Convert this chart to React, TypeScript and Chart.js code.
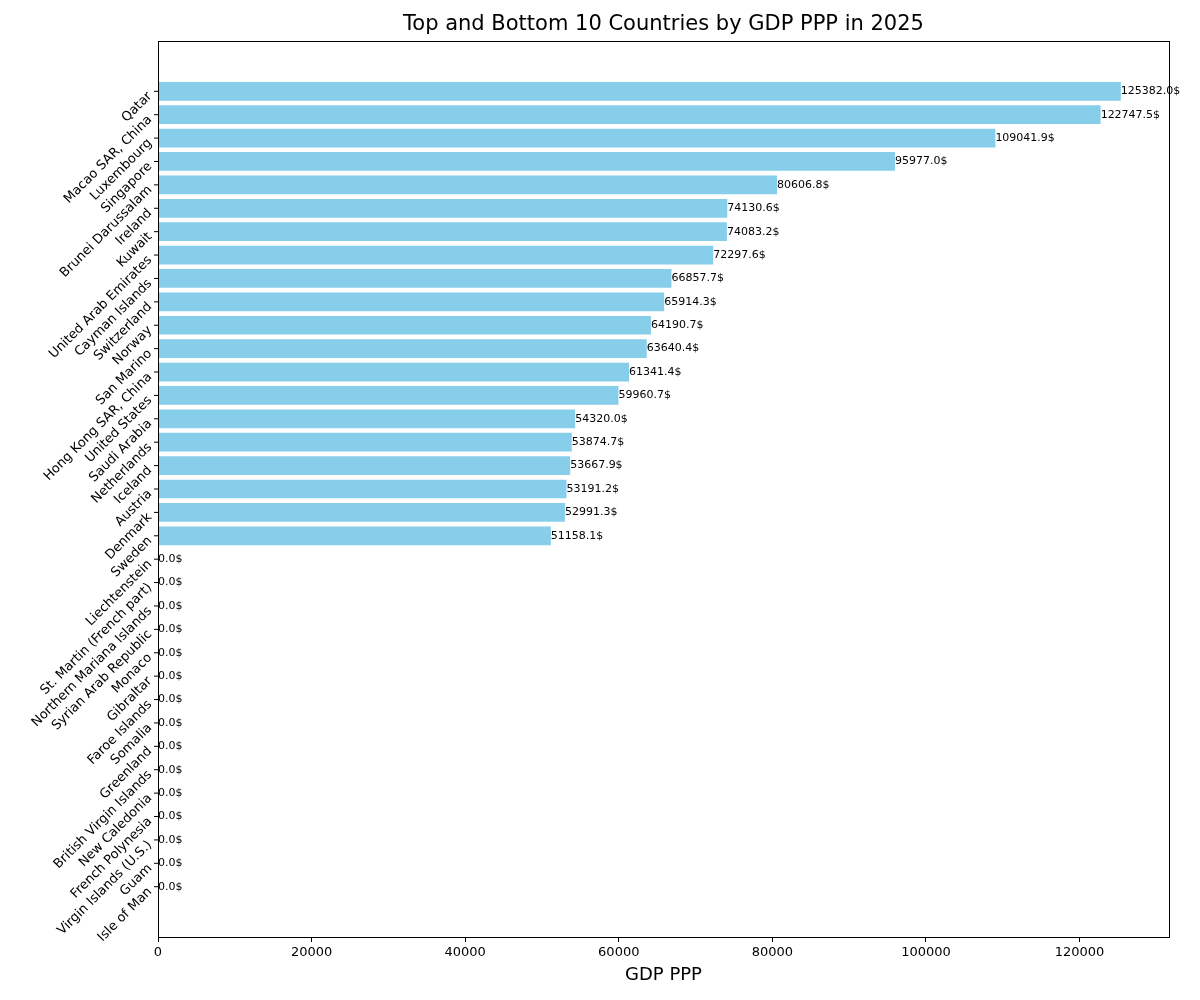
import React, { useEffect, useRef } from "react";
import { Chart, registerables } from "chart.js";
Chart.register(...registerables);

const countries = ["Qatar","Macao SAR, China","Luxembourg","Singapore","Brunei Darussalam","Ireland","Kuwait","United Arab Emirates","Cayman Islands","Switzerland","Norway","San Marino","Hong Kong SAR, China","United States","Saudi Arabia","Netherlands","Iceland","Austria","Denmark","Sweden","Liechtenstein","St. Martin (French part)","Northern Mariana Islands","Syrian Arab Republic","Monaco","Gibraltar","Faroe Islands","Somalia","Greenland","British Virgin Islands","New Caledonia","French Polynesia","Virgin Islands (U.S.)","Guam","Isle of Man"];
const gdpValues = [125382.0,122747.5,109041.9,95977.0,80606.8,74130.6,74083.2,72297.6,66857.7,65914.3,64190.7,63640.4,61341.4,59960.7,54320.0,53874.7,53667.9,53191.2,52991.3,51158.1,0,0,0,0,0,0,0,0,0,0,0,0,0,0,0];
const xTicks = [0,20000,40000,60000,80000,100000,120000];

const FONT = "'DejaVu Sans', sans-serif";

export default function App() {
  const ref = useRef<HTMLCanvasElement>(null);
  useEffect(() => {
    document.body.style.margin = "0";
    const overlay = {
      id: "overlay",
      afterDraw(chart: any) {
        const ctx = chart.ctx;
        const ys = chart.scales.y, xs = chart.scales.x, a = chart.chartArea;
        ctx.save();
        ctx.fillStyle = "#000";
        ctx.font = `21px ${FONT}`;
        ctx.textAlign = "center"; ctx.textBaseline = "middle";
        ctx.fillText("Top and Bottom 10 Countries by GDP PPP in 2025", (a.left + a.right) / 2, 25);
        ctx.strokeStyle = "#000"; ctx.lineWidth = 1;
        ctx.strokeRect(a.left + 0.5, a.top + 0.5, a.right - a.left, a.bottom - a.top);
        countries.forEach((c, i) => {
          const y = ys.getPixelForValue(i);
          ctx.beginPath(); ctx.moveTo(a.left - 4, y); ctx.lineTo(a.left, y); ctx.stroke();
          ctx.save();
          ctx.translate(a.left - 8, y + 3);
          ctx.rotate(-Math.PI / 4);
          ctx.font = `13px ${FONT}`;
          ctx.textAlign = "right"; ctx.textBaseline = "middle";
          ctx.fillText(c, 0, 0);
          ctx.restore();
          ctx.font = `11px ${FONT}`;
          ctx.textAlign = "left"; ctx.textBaseline = "middle";
          ctx.fillText(gdpValues[i].toFixed(1) + "$", xs.getPixelForValue(gdpValues[i]), y);
        });
        ctx.restore();
      },
    };
    const chart = new Chart(ref.current!, {
      type: "bar",
      data: {
        datasets: [{
          data: gdpValues.map((v, i) => ({ x: v, y: i })),
          backgroundColor: "#87CEEB",
          barPercentage: 0.8,
          categoryPercentage: 1,
        }],
      },
      options: {
        indexAxis: "y",
        animation: false,
        responsive: false,
        layout: { padding: { left: 0, right: 31, top: 41, bottom: 14 } },
        plugins: { legend: { display: false }, tooltip: { enabled: false } },
        scales: {
          x: {
            type: "linear", min: 0, max: 131651,
            afterBuildTicks: (s: any) => { s.ticks = xTicks.map(v => ({ value: v })); },
            ticks: { color: "#000", font: { size: 13, family: FONT }, maxRotation: 0, callback: (v: any) => String(v) },
            grid: { drawOnChartArea: false, tickLength: 5, color: "#000" },
            border: { display: false },
            title: { display: true, text: "GDP PPP", color: "#000", font: { size: 18, family: FONT }, padding: { top: 2, bottom: 0 } },
            afterFit: (s: any) => { s.height = 49; },
          },
          y: {
            type: "linear", reverse: true, min: -2.15, max: 36.15, offset: false,
            ticks: { display: false },
            grid: { display: false, offset: false },
            border: { display: false },
            afterFit: (s: any) => { s.width = 158; },
          },
        },
      },
      plugins: [overlay],
    } as any);
    return () => chart.destroy();
  }, []);
  return <canvas ref={ref} width={1200} height={1000} style={{ display: "block" }} />;
}
